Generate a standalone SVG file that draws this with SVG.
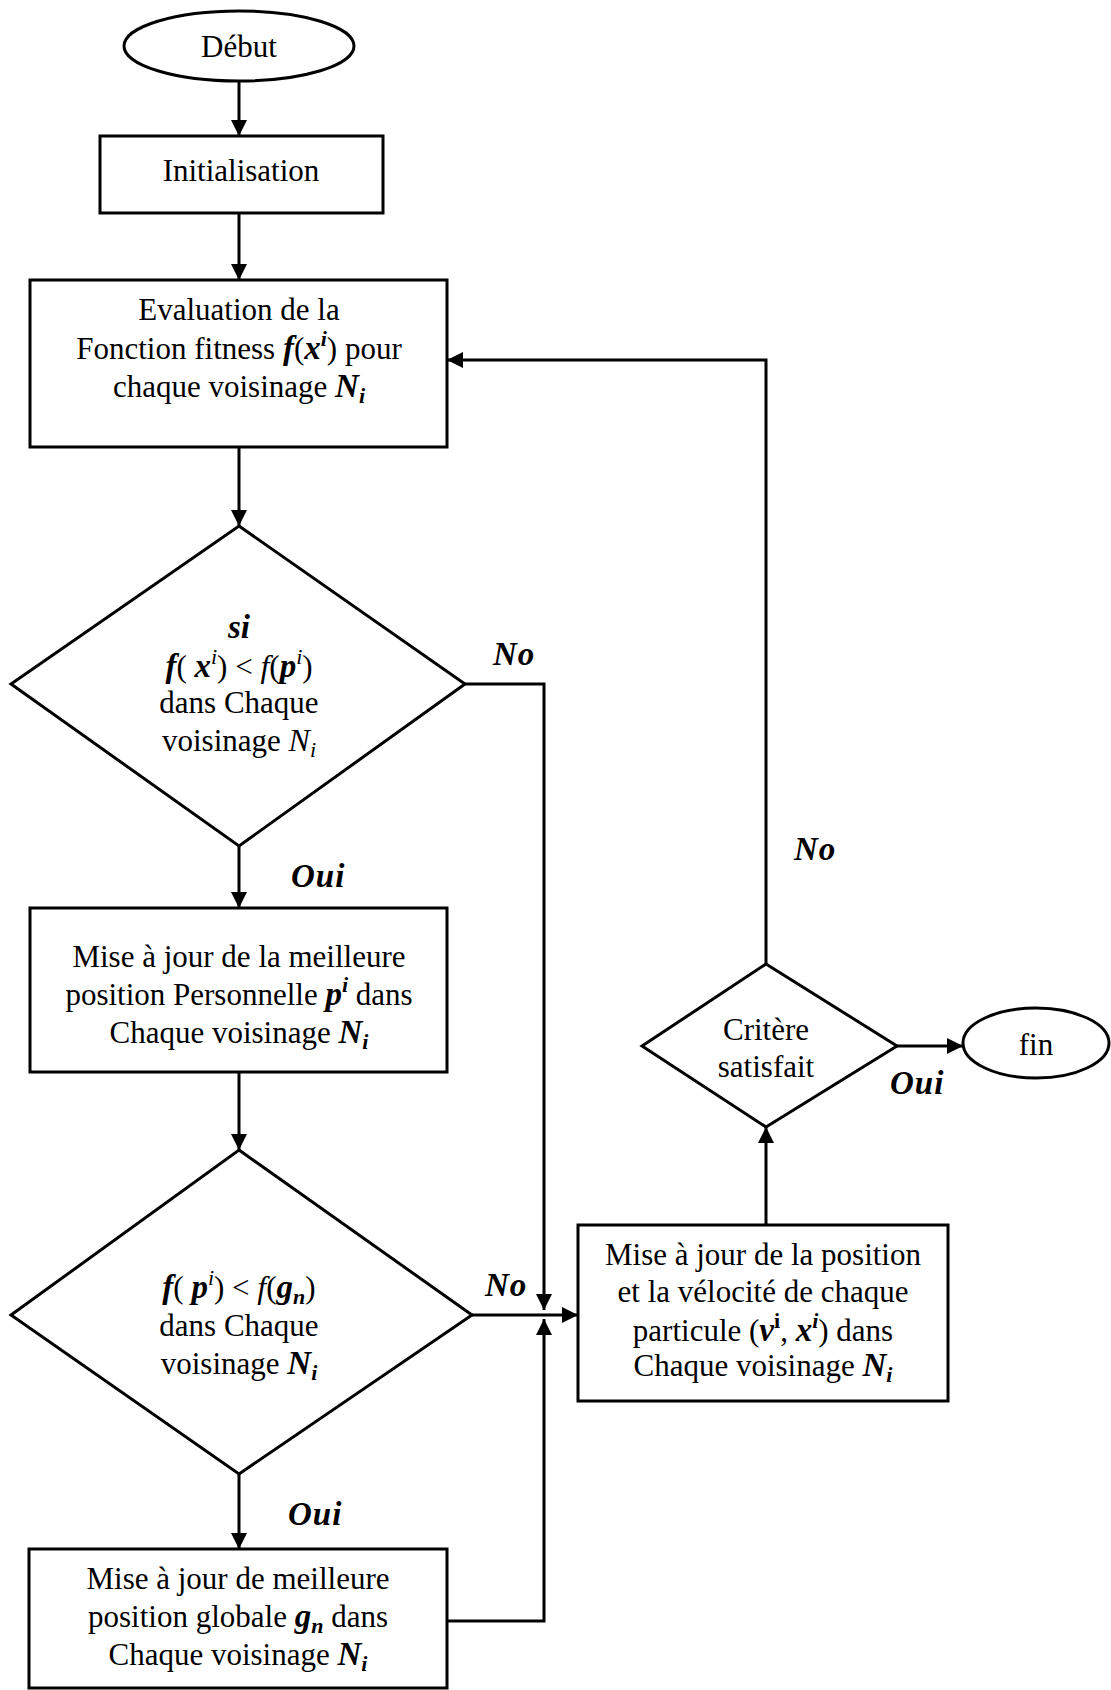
<svg xmlns="http://www.w3.org/2000/svg" width="1111" height="1690" viewBox="0 0 1111 1690">
<style>
.s{fill:#fff;stroke:#000;stroke-width:3}
.t{font-family:"Liberation Serif","Times New Roman",serif;font-size:31px;fill:#000;text-anchor:middle}
.m{font-weight:bold;font-style:italic;font-size:33px}
.mi{font-style:italic;font-size:32px}
.sup{font-size:22px}
.lbl{font-family:"Liberation Serif","Times New Roman",serif;font-size:33px;font-weight:bold;font-style:italic;fill:#000;letter-spacing:1px}
.c{fill:none;stroke:#000;stroke-width:3}
</style>
<defs>
<marker id="ah" markerUnits="userSpaceOnUse" markerWidth="17" markerHeight="16" refX="16" refY="8" orient="auto">
<path d="M0,0 L16,8 L0,16 Z" fill="#000"/>
</marker>
</defs>
<rect width="1111" height="1690" fill="#fff"/>
<g id="connectors">
<line class="c" x1="239" y1="81" x2="239" y2="136" marker-end="url(#ah)"/>
<line class="c" x1="239" y1="213" x2="239" y2="280" marker-end="url(#ah)"/>
<line class="c" x1="239" y1="447" x2="239" y2="526" marker-end="url(#ah)"/>
<line class="c" x1="239" y1="846" x2="239" y2="908" marker-end="url(#ah)"/>
<line class="c" x1="239" y1="1072" x2="239" y2="1150" marker-end="url(#ah)"/>
<line class="c" x1="239" y1="1474" x2="239" y2="1549" marker-end="url(#ah)"/>
<polyline class="c" points="465,684 544,684 544,1310" marker-end="url(#ah)"/>
<line class="c" x1="472" y1="1315" x2="578" y2="1315" marker-end="url(#ah)"/>
<polyline class="c" points="447,1621 544,1621 544,1319" marker-end="url(#ah)"/>
<line class="c" x1="766" y1="1225" x2="766" y2="1127" marker-end="url(#ah)"/>
<line class="c" x1="897" y1="1046" x2="963" y2="1046" marker-end="url(#ah)"/>
<polyline class="c" points="766,964 766,360 447,360" marker-end="url(#ah)"/>
<text class="lbl" x="493" y="665">No</text>
<text class="lbl" x="291" y="887">Oui</text>
<text class="lbl" x="485" y="1296">No</text>
<text class="lbl" x="288" y="1525">Oui</text>
<text class="lbl" x="794" y="860">No</text>
<text class="lbl" x="890" y="1094">Oui</text>
</g>
<g id="debut">
<ellipse class="s" cx="239" cy="46" rx="115" ry="35"/>
<text class="t" x="239" y="57">Début</text>
</g>
<g id="init">
<rect class="s" x="100" y="136" width="283" height="77"/>
<text class="t" x="241" y="181">Initialisation</text>
</g>
<g id="eval">
<rect class="s" x="30" y="280" width="417" height="167"/>
<text class="t" x="239" y="320">Evaluation de la</text>
<text class="t" x="239" y="359">Fonction fitness <tspan class="m">f</tspan>(<tspan class="m">x</tspan><tspan class="m sup" dy="-13">i</tspan><tspan dy="13">) pour</tspan></text>
<text class="t" x="239" y="397">chaque voisinage <tspan class="m">N</tspan><tspan class="m sup" dy="6">i</tspan></text>
</g>
<g id="cond1">
<polygon class="s" points="239,526 465,684 239,846 11,684"/>
<text class="t m" x="239" y="638">si</text>
<text class="t" x="239" y="677"><tspan class="m">f</tspan>( <tspan class="m">x</tspan><tspan class="sup mi" dy="-13">i</tspan><tspan dy="13">) &lt; </tspan><tspan class="mi">f</tspan>(<tspan class="m">p</tspan><tspan class="sup mi" dy="-13">i</tspan><tspan dy="13">)</tspan></text>
<text class="t" x="239" y="713">dans Chaque</text>
<text class="t" x="239" y="751">voisinage <tspan class="mi">N</tspan><tspan class="mi sup" dy="6">i</tspan></text>
</g>
<g id="pbest">
<rect class="s" x="30" y="908" width="417" height="164"/>
<text class="t" x="239" y="967">Mise à jour de la meilleure</text>
<text class="t" x="239" y="1005">position  Personnelle <tspan class="m">p</tspan><tspan class="m sup" dy="-13">i</tspan><tspan dy="13"> dans</tspan></text>
<text class="t" x="239" y="1043">Chaque voisinage <tspan class="m">N</tspan><tspan class="m sup" dy="6">i</tspan></text>
</g>
<g id="cond2">
<polygon class="s" points="239,1150 472,1315 239,1474 11,1315"/>
<text class="t" x="239" y="1298"><tspan class="m">f</tspan>( <tspan class="m">p</tspan><tspan class="sup mi" dy="-13">i</tspan><tspan dy="13">)  &lt; </tspan><tspan class="mi">f</tspan>(<tspan class="m">g</tspan><tspan class="m sup" dy="6">n</tspan><tspan dy="-6">)</tspan></text>
<text class="t" x="239" y="1336">dans Chaque</text>
<text class="t" x="239" y="1374">voisinage <tspan class="m">N</tspan><tspan class="m sup" dy="6">i</tspan></text>
</g>
<g id="gbest">
<rect class="s" x="29" y="1549" width="418" height="139"/>
<text class="t" x="238" y="1589">Mise à jour de meilleure</text>
<text class="t" x="238" y="1627">position globale <tspan class="m">g</tspan><tspan class="m sup" dy="6">n</tspan><tspan dy="-6"> dans</tspan></text>
<text class="t" x="238" y="1665">Chaque voisinage <tspan class="m">N</tspan><tspan class="m sup" dy="6">i</tspan></text>
</g>
<g id="update">
<rect class="s" x="578" y="1225" width="370" height="176"/>
<text class="t" x="763" y="1265">Mise à jour de la position</text>
<text class="t" x="763" y="1302">et la vélocité de chaque</text>
<text class="t" x="763" y="1341">particule (<tspan class="m">v</tspan><tspan class="sup" font-weight="bold" dy="-13">i</tspan><tspan dy="13">, </tspan><tspan class="m">x</tspan><tspan class="m sup" dy="-13">i</tspan><tspan dy="13">) dans</tspan></text>
<text class="t" x="763" y="1376">Chaque voisinage <tspan class="m">N</tspan><tspan class="m sup" dy="6">i</tspan></text>
</g>
<g id="critere">
<polygon class="s" points="766,964 897,1046 766,1127 642,1046"/>
<text class="t" x="766" y="1040">Critère</text>
<text class="t" x="766" y="1077">satisfait</text>
</g>
<g id="fin">
<ellipse class="s" cx="1036" cy="1043" rx="73" ry="35"/>
<text class="t" x="1036" y="1055">fin</text>
</g>
</svg>
